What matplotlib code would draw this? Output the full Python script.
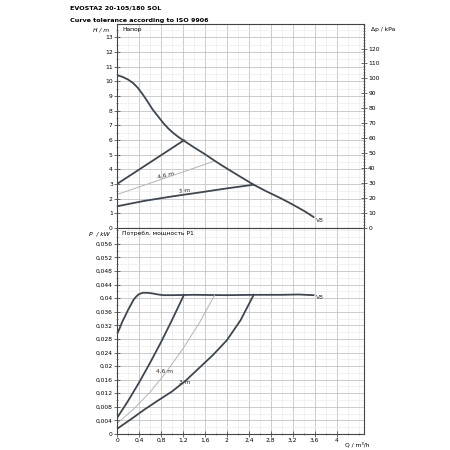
import matplotlib.pyplot as plt
from matplotlib.ticker import MultipleLocator, FixedLocator

plt.rcParams['font.family'] = ['DejaVu Sans']

# head curves, Q in m3/h, H in m
q_v8 = [0, 0.1, 0.2, 0.29, 0.38, 0.47, 0.56, 0.65, 0.75, 0.84, 0.93, 1.02, 1.12, 1.21,
        1.4, 1.59, 1.76, 1.93, 2.2, 2.49, 2.72, 2.96, 3.14, 3.32, 3.45, 3.58]
h_v8 = [10.42, 10.3, 10.12, 9.89, 9.55, 9.1, 8.6, 8.07, 7.6, 7.17, 6.8, 6.49, 6.2, 5.97,
        5.5, 5.06, 4.63, 4.22, 3.6, 2.95, 2.5, 2.07, 1.72, 1.35, 1.07, 0.75]
q_6m = [0, 1.22]
h_6m = [3.0, 5.98]
q_46m = [0, 1.76]
h_46m = [2.28, 4.54]
q_3m = [0, 0.5, 1.0, 1.5, 2.0, 2.49]
h_3m = [1.48, 1.85, 2.15, 2.42, 2.7, 2.95]

# power curves, P in kW
qp_v8 = [0, 0.05, 0.1, 0.15, 0.2, 0.25, 0.3, 0.35, 0.4, 0.47, 0.56, 0.65, 0.75, 0.84,
         1.0, 1.4, 2.0, 2.5, 3.0, 3.3, 3.58]
p_v8 = [0.0294, 0.0312, 0.0332, 0.0348, 0.0365, 0.038, 0.0395, 0.0405, 0.0412, 0.0416,
        0.0416, 0.0414, 0.0411, 0.0409, 0.0409, 0.041, 0.0409, 0.041, 0.041, 0.0411, 0.0409]
qp_6m = [0, 0.2, 0.4, 0.6, 0.8, 1.0, 1.22]
p_6m = [0.0047, 0.0097, 0.0151, 0.0209, 0.027, 0.0335, 0.041]
qp_46m = [0, 0.3, 0.6, 0.9, 1.2, 1.5, 1.78]
p_46m = [0.0031, 0.0073, 0.0123, 0.0183, 0.0251, 0.0327, 0.041]
qp_3m = [0, 0.25, 0.5, 0.75, 1.0, 1.25, 1.5, 1.75, 2.0, 2.25, 2.49]
p_3m = [0.0015, 0.0043, 0.0072, 0.0099, 0.0125, 0.0157, 0.0195, 0.0233, 0.0276, 0.0335, 0.041]

h_ticks = list(range(0, 14))
kpa_ticks = list(range(0, 130, 10))
p_ticks = [0, 0.004, 0.008, 0.012, 0.016, 0.02, 0.024, 0.028, 0.032, 0.036, 0.04,
           0.044, 0.048, 0.052, 0.056]
p_labels = ['0', '0,004', '0,008', '0,012', '0,016', '0,02', '0,024', '0,028', '0,032',
            '0,036', '0,04', '0,044', '0,048', '0,052', '0,056']
q_ticks = [0, 0.4, 0.8, 1.2, 1.6, 2.0, 2.4, 2.8, 3.2, 3.6, 4.0]
q_labels = ['0', '0,4', '0,8', '1,2', '1,6', '2', '2,4', '2,8', '3,2', '3,6', '4']

dark = '#3d4752'
light = '#b4b4b4'
fs = 4.3

fig = plt.figure(figsize=(4.5, 4.5), dpi=100)
ax1 = fig.add_axes([0.26, 0.4933, 0.549, 0.4533])
ax2 = fig.add_axes([0.26, 0.0356, 0.549, 0.4578])


def style(ax):
    ax.set_xlim(0, 4.5)
    ax.xaxis.set_major_locator(FixedLocator(q_ticks))
    ax.xaxis.set_minor_locator(MultipleLocator(0.2))
    ax.grid(which='major', color='#c4c4c4', lw=0.6)
    ax.grid(which='minor', color='#e8e8e8', lw=0.4)
    ax.set_axisbelow(True)
    ax.tick_params(which='both', direction='inout', labelsize=fs, color='#555555', pad=1)
    ax.tick_params(which='major', length=4, width=0.6)
    ax.tick_params(which='minor', length=2, width=0.4)
    for s in ax.spines.values():
        s.set_color('#444444')
        s.set_linewidth(0.8)


# top: head
style(ax1)
ax1.set_ylim(0, 13.9)
ax1.yaxis.set_major_locator(FixedLocator(h_ticks))
ax1.yaxis.set_minor_locator(MultipleLocator(0.5))
ax1.tick_params(axis='x', which='both', labelbottom=False, bottom=False)
ax1.plot(q_v8, h_v8, color=dark, lw=1.3)
ax1.plot(q_6m, h_6m, color=dark, lw=1.3)
ax1.plot(q_46m, h_46m, color=light, lw=0.7)
ax1.plot(q_3m, h_3m, color=dark, lw=1.3)
ax1.text(0.89, 3.62, '4,6 m', fontsize=fs, color='#333333', rotation=14, ha='center', va='center')
ax1.text(1.23, 2.52, '3 m', fontsize=fs, color='#333333', rotation=6, ha='center', va='center')
ax1.text(3.62, 0.5, 'V8', fontsize=fs, color='#333333', ha='left', va='center')
ax1.text(0.02, 0.985, 'Напор', transform=ax1.transAxes, fontsize=fs, va='top', ha='left')
ax1.text(-0.03, 0.985, 'H / m', transform=ax1.transAxes, fontsize=fs, va='top', ha='right',
         style='italic')

axr = ax1.twinx()
axr.set_ylim(0, 13.9 * 9.81)
axr.yaxis.set_major_locator(FixedLocator(kpa_ticks))
axr.yaxis.set_minor_locator(MultipleLocator(2))
axr.tick_params(which='both', direction='inout', labelsize=fs, color='#555555', pad=1)
axr.tick_params(which='major', length=4, width=0.6)
axr.tick_params(which='minor', length=2, width=0.4)
for s in axr.spines.values():
    s.set_visible(False)
axr.text(1.03, 0.985, 'Δp / kPa', transform=ax1.transAxes, fontsize=fs, va='top', ha='left')

# bottom: power
style(ax2)
ax2.set_ylim(0, 0.0607)
ax2.yaxis.set_major_locator(FixedLocator(p_ticks))
ax2.set_yticklabels(p_labels)
ax2.yaxis.set_minor_locator(MultipleLocator(0.002))
ax2.set_xticklabels(q_labels)
ax2.tick_params(axis='x', which='both', top=False)
ax2.plot(qp_v8, p_v8, color=dark, lw=1.3)
ax2.plot(qp_6m, p_6m, color=dark, lw=1.3)
ax2.plot(qp_46m, p_46m, color=light, lw=0.7)
ax2.plot(qp_3m, p_3m, color=dark, lw=1.3)
ax2.text(0.87, 0.0184, '4,6 m', fontsize=fs, color='#333333', ha='center', va='center')
ax2.text(1.23, 0.0152, '3 m', fontsize=fs, color='#333333', ha='center', va='center')
ax2.text(3.62, 0.0402, 'V8', fontsize=fs, color='#333333', ha='left', va='center')
ax2.text(0.02, 0.985, 'Потребл. мощность P1', transform=ax2.transAxes, fontsize=fs,
         va='top', ha='left')
ax2.text(-0.03, 0.985, 'P  / kW', transform=ax2.transAxes, fontsize=fs, va='top', ha='right',
         style='italic')
ax2.text(4.38, -0.0023, 'Q / m³/h', fontsize=fs, va='top', ha='center', clip_on=False)

fig.text(0.155, 0.982, 'EVOSTA2 20-105/180 SOL', fontsize=4.6, weight='bold', va='center')
fig.text(0.155, 0.955, 'Curve tolerance according to ISO 9906', fontsize=4.6, weight='bold',
         va='center')

fig.savefig('out.png', dpi=100)
